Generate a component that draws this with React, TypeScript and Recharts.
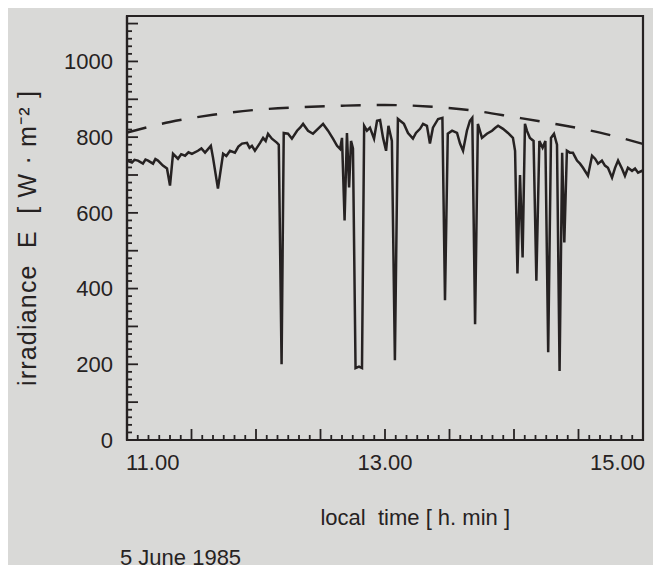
import React from "react";
import { LineChart, Line, XAxis, YAxis, ReferenceArea } from "recharts";

// global irradiance on 5 June 1985, [minutes after 11.00, W/m2]
const trace1100: [number, number][] = [
  [0, 738], [2.3, 733], [3.5, 740], [5.1, 738], [7.4, 730], [8.6, 741], [9.8, 738],
  [12.1, 730], [13.2, 742], [14.4, 738], [16.7, 725], [18.6, 717], [20, 672],
  [21.4, 756], [23.7, 743], [25.2, 755], [27, 751], [28.6, 760], [30.2, 756],
  [33, 764], [34.6, 770], [36.3, 759], [39, 777], [40, 746], [42.3, 664],
  [44.7, 756], [46.2, 750], [47.9, 764], [50.2, 759], [51.8, 775], [53.5, 783],
  [55.8, 785], [57, 772], [58.1, 777], [59.5, 764],
];

const trace1200: [number, number][] = [
  [61.9, 785], [63.3, 798], [64.5, 790], [65.6, 809], [67.4, 796], [69.8, 785],
  [70.6, 780], [71.9, 200], [72.9, 811], [74.9, 809], [76.7, 796], [79.1, 817],
  [80.5, 825], [81.9, 835], [84.2, 817], [86.5, 809], [88.8, 822], [91.2, 835],
  [93.5, 817], [95.8, 796], [97.7, 777], [99.1, 769], [100, 798], [101.2, 580],
  [102.3, 811], [103.3, 667], [104.2, 790], [105.1, 770], [106.3, 190],
  [107.9, 194], [109.3, 190], [110.3, 830], [111.6, 817], [113, 825],
  [114.9, 796], [116.3, 843], [117.7, 845], [119.1, 798],
];

const trace1300: [number, number][] = [
  [120.5, 764], [121.6, 830], [123.2, 790], [124.6, 211], [126, 848],
  [128.8, 835], [130.7, 811], [133, 796], [134.4, 811], [136.3, 822],
  [137.7, 835], [139.5, 830], [140.9, 783], [142.3, 825], [144.7, 848],
  [146.7, 851], [147.9, 369], [149.2, 809], [151.2, 817], [153.5, 811],
  [154.9, 783], [156.3, 764], [158.1, 817], [159.5, 843], [160.6, 851],
  [161.9, 306], [163.2, 835], [165.1, 798], [167.4, 809], [169.8, 817],
  [171.2, 824], [172.6, 830], [174.9, 822], [177.2, 811], [179.5, 798],
];

const trace1400: [number, number][] = [
  [180.5, 764], [181.6, 440], [182.8, 700], [184, 482], [185.1, 835],
  [186, 817], [187.4, 798], [189.1, 790], [190.4, 421], [191.8, 790],
  [193.3, 772], [194.6, 790], [195.9, 232], [197.2, 798], [198.6, 809],
  [200, 780], [201.2, 182], [202.4, 759], [203.4, 522], [204.6, 764],
  [206, 759], [207.4, 759], [208.4, 748], [209.3, 738], [210.7, 730],
  [212.1, 719], [214.4, 698], [216.3, 751], [217.7, 743], [219.1, 730],
  [220.9, 738], [222.3, 725], [223.7, 719], [225.6, 693], [227, 719],
  [228.4, 738], [230.2, 717], [231.6, 698], [233, 719], [234.9, 711],
  [236.3, 717], [237.7, 706], [239.5, 711], [240, 708],
];

// clear sky envelope (dashed)
const clearSky: [number, number][] = [
  [0, 812], [20, 840], [40, 859], [60, 872], [80, 879], [100, 883], [120, 885],
  [140, 881], [160, 871], [180, 853], [200, 834], [220, 812], [240, 782],
];

const xLabelTimes = [0, 120, 240];
const xLabelTexts = ["11.00", "13.00", "15.00"];
const yLabelValues = [0, 200, 400, 600, 800, 1000];

const xTicks: number[] = [];
for (let t = 0; t <= 240; t += 5) xTicks.push(t);
const yTicks: number[] = [];
for (let v = 0; v <= 1100; v += 20) yTicks.push(v);

const INK = "#262222";
const PAPER = "#d9d9d7";
const FONT = "'Liberation Sans', Arial, sans-serif";

const toRows = (pts: [number, number][]) => pts.map(([t, e]) => ({ t, e }));
const measured = toRows([...trace1100, ...trace1200, ...trace1300, ...trace1400]);
const envelope = toRows(clearSky);

function XTick(props: any) {
  const { x, y, payload } = props;
  const v = payload.value;
  const idx = xLabelTimes.indexOf(v);
  const anchor = idx === 0 ? "start" : idx === 2 ? "end" : "middle";
  return (
    <g>
      <line x1={x} x2={x} y1={y} y2={y - (v % 30 === 0 ? 11 : 5)} stroke={INK} strokeWidth={1.8} />
      {idx >= 0 && (
        <text x={idx === 0 ? x - 1 : idx === 2 ? x + 2 : x} y={y + 30} textAnchor={anchor}
          fontFamily={FONT} fontSize={22} fill={INK}>
          {xLabelTexts[idx]}
        </text>
      )}
    </g>
  );
}

function YTick(props: any) {
  const { x, y, payload } = props;
  const v = payload.value;
  return (
    <g>
      <line x1={x} x2={x + (v % 100 === 0 ? 11 : 5)} y1={y} y2={y} stroke={INK} strokeWidth={1.8} />
      {yLabelValues.includes(v) && (
        <text x={x - 14} y={y} dy="0.36em" textAnchor="end" fontFamily={FONT} fontSize={22} fill={INK}>
          {v}
        </text>
      )}
    </g>
  );
}

export default function App() {
  return (
    <div style={{ position: "relative", width: 661, height: 573, margin: -8, background: PAPER, overflow: "hidden" }}>
      <LineChart width={661} height={573} margin={{ top: 16, right: 18, bottom: 0, left: 0 }}>
        <XAxis
          type="number"
          dataKey="t"
          domain={[0, 240]}
          ticks={xTicks}
          interval={0}
          tickSize={0}
          tickMargin={0}
          tick={(p: any) => <XTick {...p} />}
          height={133}
          axisLine={{ stroke: INK, strokeWidth: 2.2 }}
          allowDataOverflow
        />
        <YAxis
          type="number"
          dataKey="e"
          domain={[0, 1120]}
          ticks={yTicks}
          interval={0}
          tickSize={0}
          tickMargin={0}
          tick={(p: any) => <YTick {...p} />}
          width={127}
          axisLine={{ stroke: INK, strokeWidth: 2.2 }}
          allowDataOverflow
        />
        <ReferenceArea x1={0} x2={240} y1={0} y2={1120} fill="none" stroke={INK} strokeWidth={2.2} />
        <Line
          data={envelope}
          dataKey="e"
          type="monotone"
          stroke={INK}
          strokeWidth={2.4}
          strokeDasharray="20 16"
          dot={false}
          isAnimationActive={false}
        />
        <Line
          data={measured}
          dataKey="e"
          type="linear"
          stroke={INK}
          strokeWidth={2.5}
          dot={false}
          isAnimationActive={false}
        />
      </LineChart>
      <div
        style={{
          position: "absolute", left: 27, top: 238, transform: "translate(-50%, -50%) rotate(-90deg)",
          whiteSpace: "pre", fontFamily: FONT, fontSize: 25, lineHeight: 1, letterSpacing: 1.2, color: INK,
        }}
      >
        {"irradiance  E  [ W · m⁻² ]"}
      </div>
      <div
        style={{
          position: "absolute", right: 151, top: 507, whiteSpace: "pre",
          fontFamily: FONT, fontSize: 22, lineHeight: 1, color: INK,
        }}
      >
        {"local  time [ h. min ]"}
      </div>
      <div
        style={{
          position: "absolute", left: 120, top: 547, whiteSpace: "pre",
          fontFamily: FONT, fontSize: 22, lineHeight: 1, color: INK,
        }}
      >
        5 June 1985
      </div>
    </div>
  );
}
